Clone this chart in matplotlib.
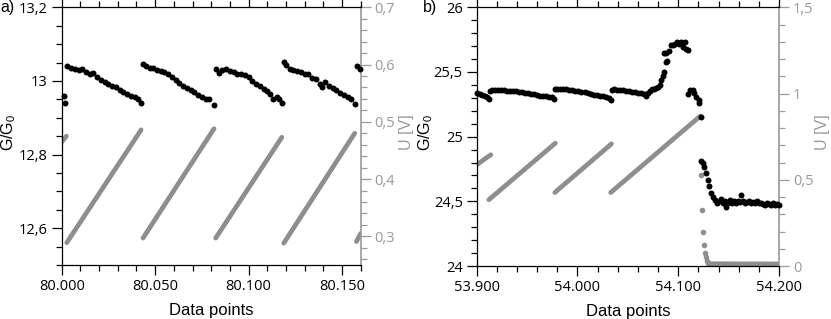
import numpy as np
import matplotlib.pyplot as plt
from matplotlib.ticker import MultipleLocator, FuncFormatter

# ---- panel a) : conductance (black) and voltage ramps (grey)
a_g_x = [80001, 80002,
         80003, 80005, 80007, 80009, 80011, 80013, 80015, 80017, 80019, 80021,
         80023, 80025, 80027, 80029, 80031, 80033, 80035, 80037, 80039, 80041, 80042.5,
         80043.5, 80045, 80047, 80049, 80051, 80053, 80055, 80057, 80059, 80061,
         80063, 80065, 80067, 80069, 80071, 80073, 80075, 80077, 80079, 80081.5,
         80082.4, 80084, 80086, 80088, 80090, 80092, 80094, 80096, 80098, 80100,
         80102, 80104, 80106, 80108, 80110, 80111.5, 80113, 80115, 80116.5, 80117.8,
         80119, 80120, 80122, 80124, 80126, 80128, 80130, 80132, 80134, 80136,
         80138, 80139.5, 80141, 80143, 80145, 80147, 80149, 80151, 80153, 80155, 80156.8,
         80158, 80159.5]
a_g_y = [12.958, 12.940,
         13.040, 13.036, 13.033, 13.030, 13.032, 13.025, 13.018, 13.022, 13.010, 13.003,
         12.997, 12.992, 12.986, 12.983, 12.975, 12.970, 12.964, 12.958, 12.955, 12.950, 12.941,
         13.046, 13.040, 13.036, 13.034, 13.030, 13.028, 13.024, 13.018, 13.012, 13.002,
         12.995, 12.985, 12.980, 12.976, 12.970, 12.962, 12.957, 12.950, 12.952, 12.935,
         13.033, 13.022, 13.030, 13.033, 13.028, 13.024, 13.020, 13.018, 13.015, 13.010,
         13.000, 12.993, 12.985, 12.978, 12.972, 12.965, 12.952, 12.955, 12.952, 12.940,
         13.051, 13.043, 13.032, 13.030, 13.027, 13.024, 13.018, 13.020, 13.008, 13.004,
         12.992, 12.983, 12.996, 12.986, 12.980, 12.975, 12.968, 12.962, 12.956, 12.952, 12.937,
         13.040, 13.032]

a_ramp_x0 = [80000, 80002.7, 80043.5, 80082.4, 80118.8, 80157.7]
a_ramp_u0 = [0.465, 0.289, 0.297, 0.297, 0.288, 0.291]
a_ramp_x1 = [80002.5, 80042.5, 80081.5, 80117.8, 80156.8, 80160]
a_ramp_u1 = [0.475, 0.486, 0.488, 0.473, 0.480, 0.305]

a_xticks = [80000, 80050, 80100, 80150]
a_xlabels = ['80.000', '80.050', '80.100', '80.150']

# ---- panel b)
b_g_x = [53900, 53903, 53905, 53908, 53910, 53912,
         53913, 53915, 53918, 53921, 53924, 53927, 53930, 53933, 53936, 53939, 53942,
         53945, 53948, 53951, 53954, 53957, 53960, 53963, 53966, 53969, 53972, 53975, 53977,
         53978, 53980, 53983, 53986, 53989, 53992, 53995, 53998, 54001, 54004, 54007,
         54010, 54013, 54016, 54019, 54022, 54025, 54028, 54031, 54033,
         54034, 54036, 54039, 54042, 54045, 54048, 54051, 54054, 54057, 54060, 54063,
         54066, 54068,
         54070, 54072, 54074, 54076, 54078, 54080, 54081.5, 54083, 54084.5, 54085.5,
         54086, 54088, 54087.5, 54089, 54091, 54093, 54095, 54097, 54099, 54101, 54103,
         54105, 54106.5, 54108, 54109.5,
         54110, 54111.8, 54114.5, 54116, 54117.8, 54120.4, 54121, 54122.7,
         54123, 54124.4, 54126, 54127.6, 54129.3, 54131, 54132.6, 54134.3,
         54136, 54138, 54140, 54142, 54144, 54146, 54147.5, 54149, 54151, 54153, 54155,
         54157, 54159, 54161, 54162.5, 54164, 54166, 54168, 54170, 54172, 54174, 54176,
         54178, 54180, 54182, 54184, 54186, 54188, 54190, 54192, 54194, 54196, 54198, 54200]
b_g_y = [25.336, 25.330, 25.323, 25.315, 25.305, 25.290,
         25.355, 25.362, 25.362, 25.360, 25.358, 25.357, 25.355, 25.353, 25.352, 25.350, 25.347,
         25.343, 25.340, 25.336, 25.330, 25.327, 25.322, 25.318, 25.314, 25.316, 25.308, 25.306, 25.292,
         25.365, 25.372, 25.370, 25.367, 25.365, 25.362, 25.360, 25.356, 25.352, 25.348, 25.342,
         25.335, 25.330, 25.325, 25.320, 25.316, 25.312, 25.305, 25.298, 25.280,
         25.362, 25.365, 25.360, 25.358, 25.357, 25.354, 25.352, 25.348, 25.345, 25.340, 25.336,
         25.330, 25.312,
         25.340, 25.355, 25.368, 25.372, 25.375, 25.382, 25.400, 25.435, 25.470, 25.500,
         25.645, 25.648, 25.575, 25.585, 25.660, 25.705, 25.712, 25.720, 25.728, 25.715, 25.733,
         25.695, 25.735, 25.680, 25.672,
         25.330, 25.361, 25.361, 25.336, 25.310, 25.284, 25.259, 25.150,
         24.808, 24.795, 24.769, 24.718, 24.666, 24.615, 24.564, 24.537,
         24.510, 24.490, 24.505, 24.515, 24.490, 24.500, 24.455, 24.490, 24.510, 24.490, 24.500,
         24.485, 24.500, 24.495, 24.550, 24.500, 24.490, 24.495, 24.500, 24.490, 24.495, 24.490,
         24.500, 24.485, 24.490, 24.480, 24.475, 24.485, 24.480, 24.470, 24.485, 24.475, 24.480, 24.470]

b_ramp_x0 = [53900, 53912, 53977.5, 54033, 54131]
b_ramp_u0 = [0.587, 0.384, 0.426, 0.426, 0.013]
b_ramp_x1 = [53914, 53978, 54033.7, 54122, 54200]
b_ramp_u1 = [0.645, 0.712, 0.708, 0.870, 0.012]

b_fall_x = [54122.5, 54123.4, 54124.4, 54125.4, 54126.7, 54127.4, 54128.4, 54129.4, 54130.5]
b_fall_u = [0.529, 0.322, 0.197, 0.119, 0.075, 0.050, 0.030, 0.018, 0.013]

b_xticks = [53900, 54000, 54100, 54200]
b_xlabels = ['53.900', '54.000', '54.100', '54.200']

GREY = '#8e8e8e'
GREY_TXT = '#9a9a9a'
TICKFONT = 'Open Sans'
LABFONT = 'Liberation Sans'
W, H = 831, 319

def comma(v, pos):
    s = ('%.1f' % v).rstrip('0').rstrip('.')
    return s.replace('.', ',')

fig = plt.figure(figsize=(8.31, 3.19), dpi=100)

def panel(rect, xlim, xticks, xlabels, xminor, ylim, ymaj, ymin, ulim, umaj, umin):
    ax = fig.add_axes(rect)
    tw = ax.twinx()
    ax.set_zorder(tw.get_zorder() + 1)
    ax.patch.set_visible(False)
    ax.set_xlim(*xlim)
    ax.set_ylim(*ylim)
    tw.set_ylim(*ulim)
    ax.set_xticks(xticks)
    ax.set_xticklabels(xlabels, fontfamily=TICKFONT, fontsize=10.5)
    ax.xaxis.set_minor_locator(MultipleLocator(xminor))
    ax.yaxis.set_major_locator(MultipleLocator(ymaj))
    ax.yaxis.set_minor_locator(MultipleLocator(ymin))
    ax.yaxis.set_major_formatter(FuncFormatter(comma))
    tw.yaxis.set_major_locator(MultipleLocator(umaj))
    tw.yaxis.set_minor_locator(MultipleLocator(umin))
    tw.yaxis.set_major_formatter(FuncFormatter(comma))
    ax.tick_params(axis='both', which='major', direction='out', length=7, width=0.9,
                   top=True, labelsize=10.5, pad=3)
    ax.tick_params(axis='both', which='minor', direction='out', length=4, width=0.9, top=True)
    ax.tick_params(axis='y', right=False)
    tw.tick_params(axis='y', which='major', direction='out', length=7, width=0.9,
                   colors=GREY_TXT, labelsize=10.5, pad=3)
    tw.tick_params(axis='y', which='minor', direction='out', length=4, width=0.9, colors=GREY_TXT)
    for lab in ax.get_yticklabels() + tw.get_yticklabels():
        lab.set_fontfamily(TICKFONT)
    for sp in ax.spines.values():
        sp.set_linewidth(0.9)
    ax.spines['right'].set_visible(False)
    tw.spines['right'].set_color(GREY_TXT)
    tw.spines['right'].set_linewidth(1.2)
    for s in ['left', 'top', 'bottom']:
        tw.spines[s].set_visible(False)
    ax.set_xlabel('Data points', fontfamily=LABFONT, fontsize=12, labelpad=6.5)
    return ax, tw

def ylabels(xl, xr, yc):
    fig.text(xl / W, 1 - yc / H, r'G/G$_\mathregular{0}$', fontfamily=LABFONT, fontsize=11.5,
             rotation=90, ha='center', va='center')
    fig.text(xr / W, 1 - yc / H, 'U [V]', fontfamily=LABFONT, fontsize=11.5, color=GREY_TXT,
             rotation=90, ha='center', va='center')

# panel a
axa, twa = panel([61.7 / W, 1 - 265 / H, 299 / W, 257.7 / H],
                 (80000, 80160), a_xticks, a_xlabels, 10,
                 (12.5, 13.2), 0.2, 0.05, (0.25, 0.7), 0.1, 0.02)
for x0, u0, x1, u1 in zip(a_ramp_x0, a_ramp_u0, a_ramp_x1, a_ramp_u1):
    twa.plot([x0, x1], [u0, u1], color=GREY, lw=3.4, solid_capstyle='round')
axa.plot(a_g_x, a_g_y, 'o', color='black', ms=4.3, mew=0, clip_on=False)
axa.set_yticks([12.6, 12.8, 13.0, 13.2])
axa.set_yticklabels(['12,6', '12,8', '13', '13,2'], fontfamily=TICKFONT)
ylabels(9, 407, 132)

# panel b
axb, twb = panel([476.7 / W, 1 - 266 / H, 302.3 / W, 258.7 / H],
                 (53900, 54200), b_xticks, b_xlabels, 20,
                 (24, 26), 0.5, 0.1, (0, 1.5), 0.5, 0.1)
for x0, u0, x1, u1 in zip(b_ramp_x0, b_ramp_u0, b_ramp_x1, b_ramp_u1):
    twb.plot([x0, x1], [u0, u1], color=GREY, lw=3.4, solid_capstyle='round')
twb.plot(b_fall_x, b_fall_u, 'o', color=GREY, ms=4.0, mew=0)
axb.plot(b_g_x, b_g_y, 'o', color='black', ms=4.3, mew=0, clip_on=False)
ylabels(426, 823, 132)

fig.text(0.0, 1 - 7.3 / H, 'a)', fontfamily=LABFONT, fontsize=11.5, va='center', ha='left')
fig.text(423 / W, 1 - 7.3 / H, 'b)', fontfamily=LABFONT, fontsize=11.5, va='center', ha='left')

fig.savefig('out.png', dpi=100)
